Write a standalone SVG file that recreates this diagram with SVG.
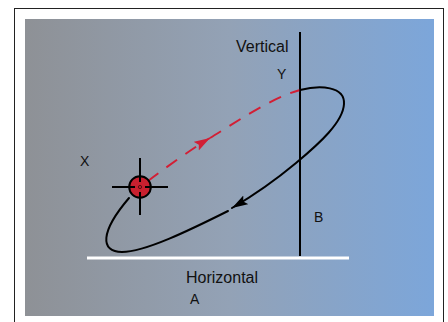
<svg xmlns="http://www.w3.org/2000/svg" width="448" height="322" viewBox="0 0 448 322">
<style>
.lbl{font-family:"Liberation Sans",Arial,sans-serif;fill:#111}
.big{font-size:16px}
.sm{font-size:14px}
.blk{fill:none;stroke:#000;stroke-width:2;stroke-linecap:round}
.red{fill:none;stroke:#d21f35;stroke-width:2;stroke-dasharray:13 10}
</style>
<defs>
<linearGradient id="bg" x1="0" y1="0" x2="1" y2="0">
<stop offset="0" stop-color="#8e9196"/>
<stop offset="0.5" stop-color="#93a2b6"/>
<stop offset="1" stop-color="#7ca6da"/>
</linearGradient>
<marker id="ahB" markerUnits="userSpaceOnUse" markerWidth="18" markerHeight="11" refX="16" refY="5" orient="auto">
<path d="M0,0 L16,5 L0,10 L3,5 z" fill="#000"/>
</marker>
<marker id="ahR" markerUnits="userSpaceOnUse" markerWidth="18" markerHeight="11" refX="16" refY="5" orient="auto">
<path d="M0,0 L16,5 L0,10 L3,5 z" fill="#d21f35"/>
</marker>
</defs>
<rect x="0" y="0" width="448" height="322" fill="#fff"/>
<rect x="14.5" y="8.5" width="429" height="330" fill="#fff" stroke="#222" stroke-width="1"/>
<rect x="25" y="19" width="409" height="297" fill="url(#bg)"/>
<g id="axes">
<line x1="300" y1="32" x2="300" y2="256" stroke="#000" stroke-width="2"/>
<line x1="87" y1="258" x2="349" y2="258" stroke="#fff" stroke-width="3"/>
</g>
<g id="connectors">
<path class="red" d="M148 181 C 165 168, 192.8 148.2, 210 138" marker-end="url(#ahR)"/>
<path class="red" d="M210 138 C 231.5 125.25, 270 98, 300 90"/>
<path class="blk" d="M300 90 C 320 85, 345 86, 344 104 C 343 122, 320 143, 296 163 C 278 178, 256 194, 232 208" marker-end="url(#ahB)"/>
<path class="blk" d="M228 211 C 190 230, 145 252, 122 252 C 100 252, 100 232, 129 198"/>
</g>
<g id="target">
<circle cx="140" cy="187" r="10.8" fill="#c8202f" stroke="#000" stroke-width="2"/>
<circle cx="140" cy="187" r="1.6" fill="none" stroke="#3a0a0a" stroke-width="0.8"/>
<g stroke="#000" stroke-width="2">
<line x1="112" y1="187" x2="135" y2="187"/>
<line x1="145" y1="187" x2="168" y2="187"/>
<line x1="140" y1="158" x2="140" y2="182"/>
<line x1="140" y1="192" x2="140" y2="215"/>
</g>
</g>
<g id="labels">
<text class="lbl big" x="236" y="52">Vertical</text>
<text class="lbl sm" x="277" y="79">Y</text>
<text class="lbl sm" x="80" y="166">X</text>
<text class="lbl sm" x="314" y="222">B</text>
<text class="lbl big" x="186" y="283">Horizontal</text>
<text class="lbl sm" x="190" y="304">A</text>
</g>
</svg>
